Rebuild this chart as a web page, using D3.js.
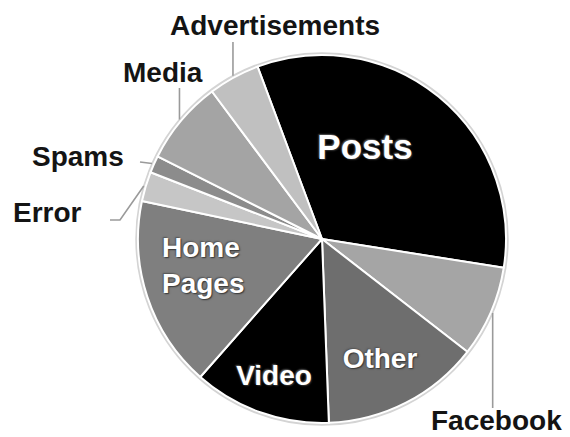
<!DOCTYPE html>
<html>
<head>
<meta charset="utf-8">
<script src="https://cdn.jsdelivr.net/npm/d3@7"></script>
<style>
  html, body { margin: 0; padding: 0; background: #fff; }
  svg { display: block; }
</style>
</head>
<body>
<svg id="chart" width="570" height="437"></svg>
<script>
// Share of traffic by content type, listed clockwise from the top.
const categories = ["Posts", "Facebook", "Other", "Video", "Home Pages", "Error", "Spams", "Media", "Advertisements"];
const shares     = [33.2, 8.0, 13.9, 12.1, 16.8, 2.6, 1.5, 7.4, 4.5];
const fills      = ["#000000", "#a5a5a5", "#6e6e6e", "#000000", "#7f7f7f", "#c6c6c6", "#8c8c8c", "#a4a4a4", "#c0c0c0"];

// Which categories are labelled inside their slice.
const insideLabels = ["Posts", "Other", "Video", "Home Pages"];

const W = 570, H = 437;
const cx = 322, cy = 239, R = 184;
const startDeg = -20.5;

const svg = d3.select("#chart");
const g = svg.append("g").attr("transform", `translate(${cx},${cy})`);

const pie = d3.pie()
  .sort(null)
  .value(d => d.value)
  .startAngle(startDeg * Math.PI / 180)
  .endAngle(startDeg * Math.PI / 180 + 2 * Math.PI);

const rows = categories.map((c, i) => ({ name: c, value: shares[i], fill: fills[i] }));
const arcs = pie(rows);
const arc = d3.arc().innerRadius(0).outerRadius(R);

// Soft rim around the disc
g.append("circle").attr("r", R + 1.5)
  .attr("fill", "none").attr("stroke", "#d4d4d4").attr("stroke-width", 2.5);

g.selectAll("path.slice").data(arcs).join("path")
  .attr("class", "slice")
  .attr("d", arc)
  .attr("fill", d => d.data.fill)
  .attr("stroke", "#ffffff")
  .attr("stroke-width", 2)
  .attr("stroke-linejoin", "round");

// Point on the rim at the middle of a slice (relative to centre)
function rimPoint(d, r) {
  const a = (d.startAngle + d.endAngle) / 2;
  return [r * Math.sin(a), -r * Math.cos(a)];
}

// Outside labels: leader path end points (absolute) and text placement
const outside = [
  { name: "Advertisements", path: p => [p, [p[0], 42]],             tx: 170, ty: 35,  anchor: "start" },
  { name: "Media",          path: p => [p, [p[0], 88]],             tx: 123, ty: 82,  anchor: "start" },
  { name: "Spams",          path: p => [p, [140, p[1] - 1.5]],      tx: 32,  ty: 166, anchor: "start" },
  { name: "Error",          path: p => [p, [120, 220], [110, 220]], tx: 13,  ty: 222, anchor: "start" },
  { name: "Facebook",       path: p => [p, [p[0], 408]],            tx: 431, ty: 430, anchor: "start" }
];

const line = d3.line();
outside.forEach(o => {
  const d = arcs.find(a => a.data.name === o.name);
  const rp = rimPoint(d, R + 2);
  const p = [cx + rp[0], cy + rp[1]];
  svg.append("path")
    .attr("d", line(o.path(p)))
    .attr("fill", "none")
    .attr("stroke", "#9a9a9a")
    .attr("stroke-width", 1.6);
  svg.append("text")
    .attr("x", o.tx).attr("y", o.ty)
    .attr("text-anchor", o.anchor)
    .attr("font-family", "'Liberation Sans', Arial, sans-serif")
    .attr("font-weight", "bold")
    .attr("font-size", 28)
    .attr("fill", "#141414")
    .text(o.name);
});

// Inside labels
const inside = [
  { name: "Posts",      lines: ["Posts"],         x: 365, y: 159, size: 35, anchor: "middle" },
  { name: "Home Pages", lines: ["Home", "Pages"], x: 162, y: 257, size: 28, anchor: "start", lh: 36 },
  { name: "Video",      lines: ["Video"],         x: 274, y: 385, size: 28, anchor: "middle" },
  { name: "Other",      lines: ["Other"],         x: 380, y: 368, size: 28, anchor: "middle" }
];

inside.forEach(o => {
  const t = svg.append("text")
    .attr("text-anchor", o.anchor)
    .attr("font-family", "'Liberation Sans', Arial, sans-serif")
    .attr("font-weight", "bold")
    .attr("font-size", o.size)
    .attr("fill", "#ffffff")
    .style("text-shadow", "1px 1px 1.5px #333, -1px -1px 1.5px #555");
  o.lines.forEach((s, i) => {
    t.append("tspan").attr("x", o.x).attr("y", o.y + i * (o.lh || 0)).text(s);
  });
});
</script>
</body>
</html>
